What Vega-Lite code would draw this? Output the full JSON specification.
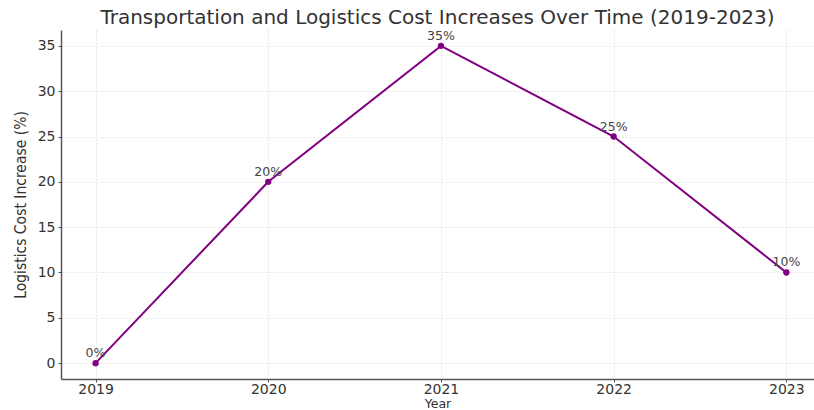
{
  "$schema": "https://vega.github.io/schema/vega-lite/v6.json",
  "autosize": {"type": "none"},
  "padding": {"left": 61, "top": 30, "right": 0, "bottom": 31},
  "width": 753,
  "height": 349,
  "background": "white",
  "title": {
    "text": "Transportation and Logistics Cost Increases Over Time (2019-2023)",
    "font": "DejaVu Sans",
    "fontSize": 20,
    "fontWeight": "normal",
    "color": "#333333",
    "anchor": "middle",
    "offset": 2
  },
  "config": {
    "view": {"stroke": null},
    "axis": {
      "labelFont": "DejaVu Sans",
      "labelFontSize": 14,
      "labelColor": "#333333",
      "titleFont": "DejaVu Sans",
      "titleFontWeight": "normal",
      "titleColor": "#333333",
      "domainColor": "#555555",
      "domainWidth": 1.5,
      "tickColor": "#555555",
      "tickSize": 3,
      "gridColor": "#dddddd",
      "gridDash": [2, 2],
      "gridWidth": 0.8
    }
  },
  "data": {
    "values": [
      {"Year": 2019, "Increase": 0, "Label": "0%"},
      {"Year": 2020, "Increase": 20, "Label": "20%"},
      {"Year": 2021, "Increase": 35, "Label": "35%"},
      {"Year": 2022, "Increase": 25, "Label": "25%"},
      {"Year": 2023, "Increase": 10, "Label": "10%"}
    ]
  },
  "encoding": {
    "x": {
      "field": "Year",
      "type": "quantitative",
      "scale": {"domain": [2018.8, 2023.16], "nice": false, "zero": false},
      "axis": {"values": [2019, 2020, 2021, 2022, 2023], "format": "d", "title": "Year", "titleFontSize": 12.5, "titlePadding": 1, "labelPadding": 0}
    },
    "y": {
      "field": "Increase",
      "type": "quantitative",
      "scale": {"domain": [-1.75, 36.75], "nice": false, "zero": false},
      "axis": {"values": [0, 5, 10, 15, 20, 25, 30, 35], "title": "Logistics Cost Increase (%)", "titleFontSize": 15.5, "titleFont": "DejaVu Sans Condensed", "titlePadding": 9, "labelPadding": 3}
    }
  },
  "layer": [
    {"mark": {"type": "line", "color": "#800080", "strokeWidth": 2}},
    {"mark": {"type": "point", "filled": true, "color": "#800080", "size": 40, "opacity": 1}},
    {
      "mark": {"type": "text", "dy": -10, "font": "DejaVu Sans", "fontSize": 12.5, "color": "#444444"},
      "encoding": {"text": {"field": "Label"}}
    }
  ]
}
